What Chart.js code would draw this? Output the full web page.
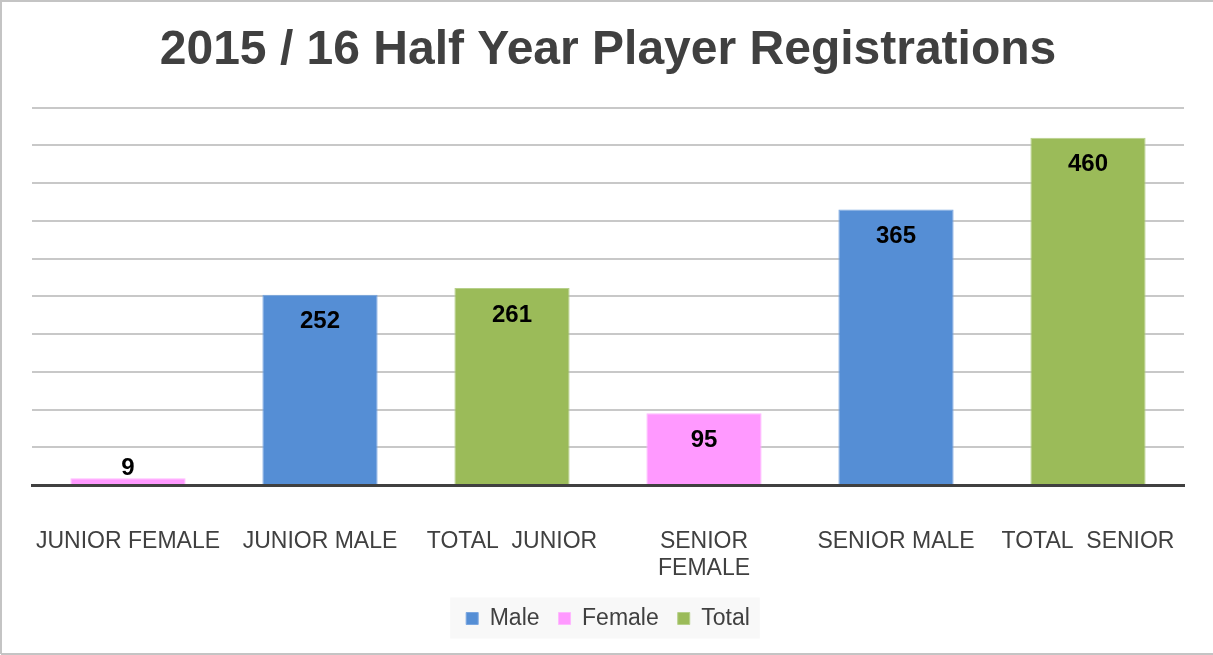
<!DOCTYPE html>
<html><head><meta charset="utf-8">
<script src="https://cdn.jsdelivr.net/npm/chart.js@4"></script>
<style>html,body{margin:0;padding:0;background:#fff;}#wrap{width:1213px;height:655px;position:relative;}</style>
</head><body><div id="wrap"><canvas id="c" width="1213" height="655"></canvas></div>
<script>
const categories = ["JUNIOR FEMALE", "JUNIOR MALE", "TOTAL  JUNIOR", ["SENIOR", "FEMALE"], "SENIOR MALE", "TOTAL  SENIOR"];
const maleValues   = [null, 252, null, null, 365, null];
const femaleValues = [9, null, null, 95, null, null];
const totalValues  = [null, null, 261, null, null, 460];
const seriesNames = ["Male", "Female", "Total"];
const seriesColors = ["#558ED5", "#FF99FF", "#9BBB59"];
const yTicks = [0, 50, 100, 150, 200, 250, 300, 350, 400, 450, 500];

const FONT = "'Liberation Sans', Arial, sans-serif";

const frame = {
  id: 'frame',
  beforeDraw(chart) {
    const ctx = chart.ctx;
    ctx.save();
    ctx.fillStyle = '#fff';
    ctx.fillRect(0, 0, chart.width, chart.height);
    ctx.strokeStyle = '#c4c4c4';
    ctx.lineWidth = 2;
    ctx.beginPath();
    ctx.moveTo(1, 654); ctx.lineTo(1, 1); ctx.lineTo(chart.width, 1);
    ctx.moveTo(1, 654); ctx.lineTo(chart.width, 654);
    ctx.stroke();
    const hb = chart.legend.legendHitBoxes;
    if (hb && hb.length) {
      const l = hb[0].left - 16, r = hb[hb.length-1].left + hb[hb.length-1].width + 10;
      const cy = hb[0].top + hb[0].height / 2;
      ctx.fillStyle = '#f8f8f8';
      ctx.fillRect(l, cy - 21, r - l, 41);
    }
    ctx.restore();
  }
};

const valueLabels = {
  id: 'valueLabels',
  afterDatasetsDraw(chart) {
    const ctx = chart.ctx;
    ctx.save();
    ctx.font = "bold 24px " + FONT;
    ctx.fillStyle = '#000';
    ctx.textAlign = 'center';
    ctx.textBaseline = 'middle';
    chart.data.datasets.forEach((ds, di) => {
      const meta = chart.getDatasetMeta(di);
      meta.data.forEach((el, i) => {
        const v = ds.data[i];
        if (v === null || v === undefined) return;
        const h = el.base - el.y;
        const y = h > 40 ? el.y + 27 : el.y - 10;
        ctx.fillText(String(v), el.x, y);
      });
    });
    ctx.restore();
  }
};

new Chart(document.getElementById('c'), {
  type: 'bar',
  data: {
    labels: categories,
    datasets: [
      { label: seriesNames[0], data: maleValues, backgroundColor: seriesColors[0], borderColor: '#7aa6e0', borderWidth: 1 },
      { label: seriesNames[1], data: femaleValues, backgroundColor: seriesColors[1], borderColor: '#ffb8ff', borderWidth: 1 },
      { label: seriesNames[2], data: totalValues, backgroundColor: seriesColors[2], borderColor: '#b6d08a', borderWidth: 1 }
    ]
  },
  options: {
    responsive: false,
    animation: false,
    skipNull: true,
    categoryPercentage: 0.6,
    barPercentage: 1.0,
    layout: { padding: { left: 32, right: 29, top: 0, bottom: 15 } },
    plugins: {
      title: {
        display: true,
        text: "2015 / 16 Half Year Player Registrations",
        color: '#404040',
        font: { family: FONT, size: 48, weight: 'bold' },
        padding: { top: 22, bottom: 28 }
      },
      legend: {
        position: 'bottom',
        labels: {
          color: '#404040',
          font: { family: FONT, size: 23 },
          boxWidth: 12,
          boxHeight: 12,
          padding: 19
        }
      },
      tooltip: { enabled: false }
    },
    scales: {
      x: {
        grid: { display: false, drawTicks: false },
        border: { display: true, color: '#404040', width: 3 },
        ticks: { color: '#404040', font: { family: FONT, size: 23, lineHeight: 1.17 }, padding: 43, maxRotation: 0, autoSkip: false },
        afterFit(scale) { scale.height = 103; scale.paddingLeft = 0; scale.paddingRight = 0; }
      },
      y: {
        min: 0, max: 500,
        afterBuildTicks(scale) { scale.ticks = yTicks.map(v => ({ value: v })); },
        grid: { color: '#c8c8c8', lineWidth: 2, drawTicks: false },
        border: { display: false },
        ticks: { display: false },
        afterFit(scale) { scale.width = 0; }
      }
    }
  },
  plugins: [frame, valueLabels]
});
</script></body></html>
